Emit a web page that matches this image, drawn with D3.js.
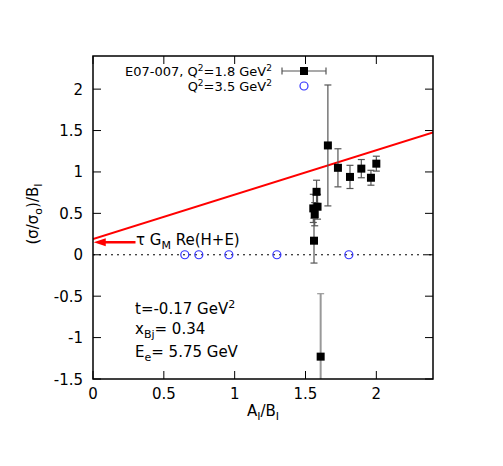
<!DOCTYPE html>
<html><head><meta charset="utf-8">
<script src="https://cdn.jsdelivr.net/npm/d3@7"></script>
<style>body{margin:0;background:#fff}text{font-family:"DejaVu Sans",Verdana,sans-serif}</style>
</head><body><svg id="c" width="503" height="466"></svg>
<script>
// data
const e07x = [1.560, 1.565, 1.555, 1.585, 1.578, 1.658, 1.729, 1.814, 1.894, 1.962, 2.000, 1.607];
const e07y = [0.17, 0.49, 0.56, 0.58, 0.76, 1.32, 1.05, 0.94, 1.04, 0.93, 1.10, -1.23];
const e07err = [0.27, 0.14, 0.17, 0.15, 0.14, 0.73, 0.23, 0.14, 0.11, 0.09, 0.09, 0.76];
const q35x = [0.648, 0.747, 0.959, 1.298, 1.806];
const q35y = [0, 0, 0, 0, 0];
const lineX = [0, 2.4];
const lineY = [0.19, 1.476];
const xTicks = [0, 0.5, 1, 1.5, 2];
const yTicks = [-1.5, -1, -0.5, 0, 0.5, 1, 1.5, 2];

const L=93, R=433, T=56, B=379;
const svg = d3.select("#c");
const x = d3.scaleLinear().domain([0,2.4]).range([L,R]);
const y = d3.scaleLinear().domain([-1.5,2.4]).range([B,T]);

const defs = svg.append("defs");
defs.append("clipPath").attr("id","clip").append("rect").attr("x",L).attr("y",T).attr("width",R-L).attr("height",B-T);

// zero dotted line
svg.append("line").attr("x1",L).attr("x2",R).attr("y1",y(0)).attr("y2",y(0))
  .attr("stroke","#000").attr("stroke-width",1).attr("stroke-dasharray","2,4");

// red line
svg.append("line").attr("clip-path","url(#clip)")
  .attr("x1",x(lineX[0])).attr("y1",y(lineY[0])).attr("x2",x(lineX[1])).attr("y2",y(lineY[1]))
  .attr("stroke","#f00").attr("stroke-width",2);

// arrow
const ay = y(0.15);
svg.append("line").attr("x1",x(0.3)).attr("x2",x(0.07)).attr("y1",ay).attr("y2",ay).attr("stroke","#f00").attr("stroke-width",2.5);
svg.append("path").attr("d",`M${x(0.005)},${ay} L${x(0.09)},${ay-4} L${x(0.09)},${ay+4} Z`).attr("fill","#f00");
const tg = svg.append("text").attr("x",136).attr("y",245).attr("font-size",15);
tg.append("tspan").text("τ G");
tg.append("tspan").attr("font-size",11).attr("dy",4).text("M");
tg.append("tspan").attr("dy",-4).text(" Re(H+E)");

// error bars
const g = svg.append("g").attr("clip-path","url(#clip)");
const cap = 3.5;
e07x.forEach((xv,i)=>{
  const lo = y(e07y[i]-e07err[i]), hi = y(e07y[i]+e07err[i]), cx = x(xv);
  const col = i===11 ? "#999" : "#555";
  g.append("line").attr("x1",cx).attr("x2",cx).attr("y1",lo).attr("y2",hi).attr("stroke",col).attr("stroke-width",i===11?2:1.2);
  [lo,hi].forEach(v=>g.append("line").attr("x1",cx-cap).attr("x2",cx+cap).attr("y1",v).attr("y2",v).attr("stroke",col).attr("stroke-width",1.2));
});
e07x.forEach((xv,i)=>{
  g.append("rect").attr("x",x(xv)-4).attr("y",y(e07y[i])-4).attr("width",8).attr("height",8).attr("fill","#000");
});
q35x.forEach((xv,i)=>{
  g.append("circle").attr("cx",x(xv)).attr("cy",y(q35y[i])).attr("r",4).attr("fill","none").attr("stroke","#33f").attr("stroke-width",1.2);
});

// frame and ticks
svg.append("rect").attr("x",L).attr("y",T).attr("width",R-L).attr("height",B-T).attr("fill","none").attr("stroke","#000").attr("stroke-width",1.5);
const tl=8;
xTicks.forEach(v=>{
  svg.append("line").attr("x1",x(v)).attr("x2",x(v)).attr("y1",B).attr("y2",B-tl).attr("stroke","#000");
  svg.append("line").attr("x1",x(v)).attr("x2",x(v)).attr("y1",T).attr("y2",T+tl).attr("stroke","#000");
  svg.append("text").attr("x",x(v)).attr("y",399).attr("text-anchor","middle").attr("font-size",15).text(v);
});
yTicks.forEach(v=>{
  svg.append("line").attr("x1",L).attr("x2",L+tl).attr("y1",y(v)).attr("y2",y(v)).attr("stroke","#000");
  svg.append("line").attr("x1",R).attr("x2",R-tl).attr("y1",y(v)).attr("y2",y(v)).attr("stroke","#000");
  svg.append("text").attr("x",83).attr("y",y(v)+5.5).attr("text-anchor","end").attr("font-size",15).text(v);
});

// axis titles
const xt = svg.append("text").attr("x",263).attr("y",416).attr("text-anchor","middle").attr("font-size",15);
xt.append("tspan").text("A"); xt.append("tspan").attr("font-size",11).attr("dy",4).text("I");
xt.append("tspan").attr("dy",-4).text("/B"); xt.append("tspan").attr("font-size",11).attr("dy",4).text("I");
const yt = svg.append("text").attr("transform","translate(38,214) rotate(-90)").attr("text-anchor","middle").attr("font-size",15);
yt.append("tspan").text("(σ/σ"); yt.append("tspan").attr("font-size",11).attr("dy",4).text("o");
yt.append("tspan").attr("dy",-4).text(")/B"); yt.append("tspan").attr("font-size",11).attr("dy",4).text("I");

// legend
const l1 = svg.append("text").attr("x",272).attr("y",76).attr("text-anchor","end").attr("font-size",13);
l1.append("tspan").text("E07-007, Q"); l1.append("tspan").attr("font-size",9).attr("dy",-5).text("2");
l1.append("tspan").attr("dy",5).text("=1.8 GeV"); l1.append("tspan").attr("font-size",9).attr("dy",-5).text("2");
const l2 = svg.append("text").attr("x",272).attr("y",91).attr("text-anchor","end").attr("font-size",13);
l2.append("tspan").text("Q"); l2.append("tspan").attr("font-size",9).attr("dy",-5).text("2");
l2.append("tspan").attr("dy",5).text("=3.5 GeV"); l2.append("tspan").attr("font-size",9).attr("dy",-5).text("2");
svg.append("line").attr("x1",282).attr("x2",326).attr("y1",71).attr("y2",71).attr("stroke","#555").attr("stroke-width",1.2);
[282,326].forEach(v=>svg.append("line").attr("x1",v).attr("x2",v).attr("y1",67.5).attr("y2",74.5).attr("stroke","#555").attr("stroke-width",1.2));
svg.append("rect").attr("x",300).attr("y",67).attr("width",8).attr("height",8).attr("fill","#000");
svg.append("circle").attr("cx",304).attr("cy",86).attr("r",4).attr("fill","none").attr("stroke","#33f").attr("stroke-width",1.2);

// annotations
const a1 = svg.append("text").attr("x",135).attr("y",314).attr("font-size",15);
a1.append("tspan").text("t=-0.17 GeV"); a1.append("tspan").attr("font-size",11).attr("dy",-6).text("2");
const a2 = svg.append("text").attr("x",135).attr("y",334).attr("font-size",15);
a2.append("tspan").text("x"); a2.append("tspan").attr("font-size",11).attr("dy",4).text("Bj");
a2.append("tspan").attr("dy",-4).text("= 0.34");
const a3 = svg.append("text").attr("x",135).attr("y",357).attr("font-size",15);
a3.append("tspan").text("E"); a3.append("tspan").attr("font-size",11).attr("dy",4).text("e");
a3.append("tspan").attr("dy",-4).text("= 5.75 GeV");
</script></body></html>
